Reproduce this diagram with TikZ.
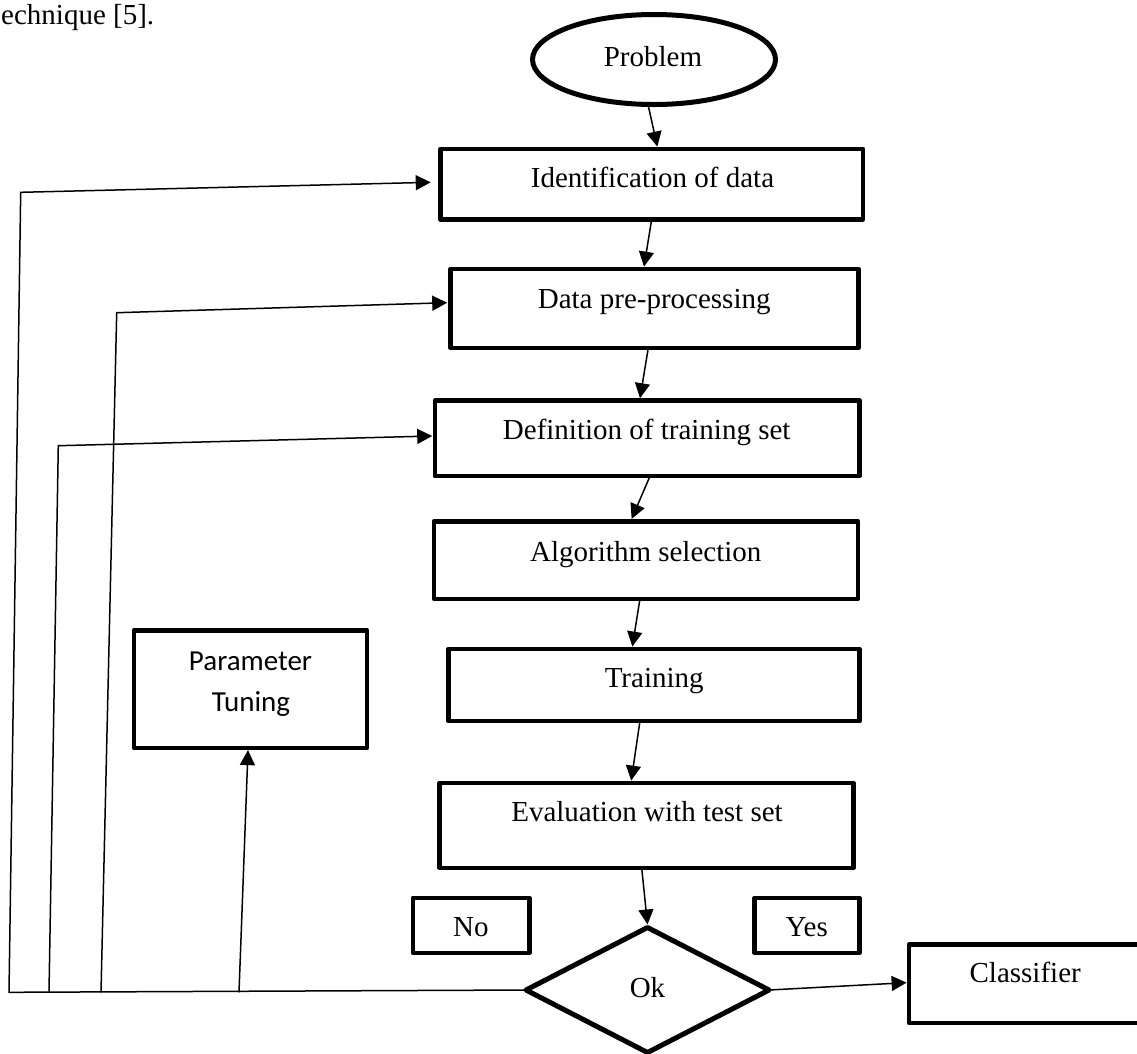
\documentclass[tikz,border=0pt]{standalone}
\usepackage{fontspec}
\setmainfont{Liberation Serif}
\newfontfamily\calibrifont{Carlito}
\usetikzlibrary{shapes.geometric, arrows.meta}

\begin{document}
\begin{tikzpicture}[x=1pt, y=-1pt,
  box/.style={draw, rectangle, line width=4.6pt, line join=round, inner sep=0pt, outer sep=0pt},
  lbl/.style={inner sep=0pt, anchor=base, font=\fontsize{29}{34}\selectfont},
  sanslbl/.style={lbl, font=\calibrifont\fontsize{29}{34}\selectfont},
  flow/.style={line width=1.5pt, -{Triangle[length=15pt,width=15pt]}},
  wire/.style={line width=1.5pt},
]
\useasboundingbox (0,0) rectangle (1137,1053);

% trailing words of the preceding paragraph
\node[lbl, anchor=base west] (prevT) at (1,24) {echnique [5].};

% main flow
\node[draw, ellipse, line width=5pt, minimum width=243pt, minimum height=90pt,
      inner sep=0pt, outer sep=0pt] (prob) at (654,59.5) {};
\node[box, minimum width=422.3pt, minimum height=70.6pt] (ident) at (651.65,184.2) {};
\node[box, minimum width=408pt,   minimum height=78.9pt] (data)  at (654.5,308.35) {};
\node[box, minimum width=424.6pt, minimum height=75.6pt] (def)   at (647.2,438.3) {};
\node[box, minimum width=423.9pt, minimum height=77.6pt] (algo)  at (645.85,560) {};
\node[box, minimum width=411.3pt, minimum height=72.2pt] (train) at (653.85,685) {};
\node[box, minimum width=413.5pt, minimum height=84.9pt] (eval)  at (646.5,825.35) {};
\node[box, minimum width=116.6pt, minimum height=54.9pt] (no)    at (471.2,925.35) {};
\node[box, minimum width=105pt,   minimum height=54.9pt] (yes)   at (807,925.35) {};
\node[draw, diamond, line width=5pt, line join=round, minimum width=243pt,
      minimum height=125pt, inner sep=0pt, outer sep=0pt] (ok) at (647.5,990) {};
\node[box, minimum width=231.9pt, minimum height=78.3pt] (cls)   at (1024.85,983.65) {};
\node[box, minimum width=233.2pt, minimum height=117.6pt] (param) at (250.5,689) {};

% labels
\node[lbl] (probT)  at (653,66)       {Problem};
\node[lbl] (identT) at (652.5,187.3)  {Identification of data};
\node[lbl] (dataT)  at (654.2,308.3)  {Data pre-processing};
\node[lbl] (defT)   at (646.7,439.3)  {Definition of training set};
\node[lbl] (algoT)  at (645.8,561.7)  {Algorithm selection};
\node[lbl] (trainT) at (654.2,687.7)  {Training};
\node[lbl] (evalT)  at (647,821.7)    {Evaluation with test set};
\node[lbl] (noT)    at (470.8,936.7)  {No};
\node[lbl] (yesT)   at (806.7,936.7)  {Yes};
\node[lbl] (okT)    at (647.5,997.3)  {Ok};
\node[lbl] (clsT)   at (1025.2,982.7) {Classifier};
\node[sanslbl] (parT1) at (250.5,670)   {Parameter};
\node[sanslbl] (parT2) at (251,711.7)   {Tuning};

% downward connectors
\draw[flow] ([xshift=-6pt]prob.south) -- ([xshift=5.7pt,yshift=2.3pt]ident.north);
\draw[flow] (ident.south) -- ([xshift=-10.5pt,yshift=2.3pt]data.north);
\draw[flow] ([xshift=-6.2pt]data.south) -- ([xshift=-7.2pt,yshift=2.3pt]def.north);
\draw[flow] ([xshift=2.8pt]def.south) -- ([xshift=-14.2pt,yshift=2.3pt]algo.north);
\draw[flow] ([xshift=-5.9pt]algo.south) -- ([xshift=-21.5pt,yshift=2.3pt]train.north);
\draw[flow] ([xshift=-13.9pt]train.south) -- ([xshift=-15.3pt,yshift=2.3pt]eval.north);
\draw[flow] ([xshift=-4.8pt]eval.south) -- ([yshift=3pt]ok.north);
\draw[flow] (ok.east) -- ([xshift=-2.3pt,yshift=1pt]cls.west);

% feedback loop from the decision
\coordinate (fbEnd) at (8.3,992.3);
\coordinate (fb1)  at (9,992.3);
\coordinate (fb1c) at (20.7,192.3);
\coordinate (fb3)  at (49,992.3);
\coordinate (fb3c) at (58.3,445.7);
\coordinate (fb2)  at (101,992.3);
\coordinate (fb2c) at (116.7,312.7);
\coordinate (fb4)  at (239,992.3);

\draw[wire] (ok.west) -- (fbEnd);
\draw[flow] (fb1) -- (fb1c) -- ([xshift=-9.8pt,yshift=1.9pt]ident.west);
\draw[flow] (fb3) -- (fb3c) -- ([xshift=-2.7pt,yshift=2.3pt]def.west);
\draw[flow] (fb2) -- (fb2c) -- ([xshift=-3.3pt,yshift=5.65pt]data.west);
\draw[flow] (fb4) -- ([xshift=-2.5pt,yshift=-2.3pt]param.south);
\end{tikzpicture}
\end{document}
